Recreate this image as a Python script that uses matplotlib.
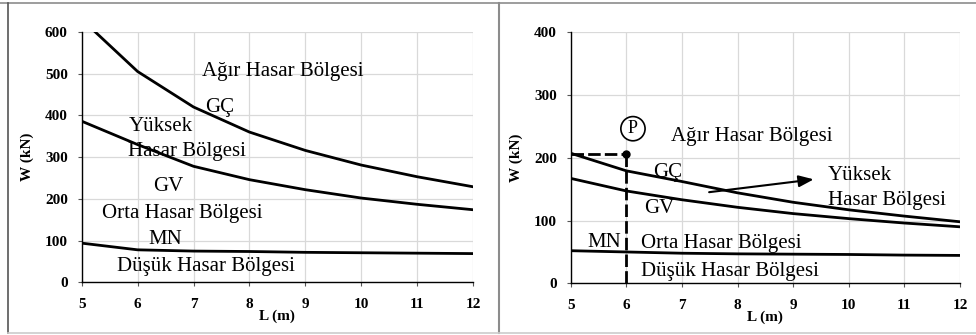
import matplotlib
matplotlib.use("Agg")
import matplotlib.pyplot as plt
from matplotlib.lines import Line2D

L = [5, 6, 7, 8, 9, 10, 11, 12]

# Left panel
left_GC = [630, 505, 420, 360, 316, 281, 253, 229]
left_GV = [386, 330, 278, 246, 222, 202, 187, 174]
left_MN = [94, 78, 75, 74, 72, 71, 70, 69]

# Right panel
right_GC = [207, 179, 162, 144, 129, 117, 107, 98]
right_GV = [167, 147, 133, 121, 111, 103, 96, 90]
right_MN = [52, 50, 48, 47, 46.5, 46, 45, 44.5]

P_point = (6, 205)

xticks = [5, 6, 7, 8, 9, 10, 11, 12]
left_yticks = [0, 100, 200, 300, 400, 500, 600]
right_yticks = [0, 100, 200, 300, 400]

plt.rcParams['font.family'] = ['Liberation Serif', 'DejaVu Serif']

fig = plt.figure(figsize=(9.76, 3.35), dpi=100)
ax1 = fig.add_axes([0.0837, 0.157, 0.401, 0.748])
ax2 = fig.add_axes([0.5847, 0.154, 0.3989, 0.751])


def style(ax, yticks):
    ax.set_xlim(5, 12)
    ax.set_ylim(yticks[0], yticks[-1])
    ax.set_xticks(xticks)
    ax.set_yticks(yticks)
    ax.grid(True, color='#d9d9d9', linewidth=0.9)
    ax.set_axisbelow(True)
    for s in ['top', 'right']:
        ax.spines[s].set_visible(False)
    for s in ['left', 'bottom']:
        ax.spines[s].set_color('black')
        ax.spines[s].set_linewidth(1.0)
    ax.tick_params(axis='both', direction='out', length=3, width=0.8,
                   color='#555555', labelsize=11)
    ax.tick_params(axis='y', pad=7)
    ax.tick_params(axis='x', pad=8)
    for lab in ax.get_xticklabels() + ax.get_yticklabels():
        lab.set_fontweight('bold')
    ax.set_xlabel('L (m)', fontsize=11, fontweight='bold', labelpad=-1)
    ax.set_ylabel('W (kN)', fontsize=11, fontweight='bold', labelpad=8)


style(ax1, left_yticks)
style(ax2, right_yticks)

lw = 2.0
for ax, gc, gv, mn in [(ax1, left_GC, left_GV, left_MN),
                       (ax2, right_GC, right_GV, right_MN)]:
    ax.plot(L, gc, color='black', lw=lw, clip_on=True)
    ax.plot(L, gv, color='black', lw=lw)
    ax.plot(L, mn, color='black', lw=lw)

fs = 15
# Left texts
ax1.text(8.6, 506, 'Ağır Hasar Bölgesi', fontsize=fs, ha='center', va='center')
ax1.text(7.46, 418, 'GÇ', fontsize=fs, ha='center', va='center')
ax1.text(5.85, 374, 'Yüksek', fontsize=fs, ha='left', va='center')
ax1.text(5.83, 314, 'Hasar Bölgesi', fontsize=fs, ha='left', va='center')
ax1.text(6.55, 230, 'GV', fontsize=fs, ha='center', va='center')
ax1.text(6.79, 164, 'Orta Hasar Bölgesi', fontsize=fs, ha='center', va='center')
ax1.text(6.49, 103, 'MN', fontsize=fs, ha='center', va='center')
ax1.text(7.22, 38, 'Düşük Hasar Bölgesi', fontsize=fs, ha='center', va='center')

# Right texts
ax2.text(8.25, 233, 'Ağır Hasar Bölgesi', fontsize=fs, ha='center', va='center')
ax2.text(6.75, 176, 'GÇ', fontsize=fs, ha='center', va='center')
ax2.text(9.63, 172, 'Yüksek', fontsize=fs, ha='left', va='center')
ax2.text(9.63, 132, 'Hasar Bölgesi', fontsize=fs, ha='left', va='center')
ax2.text(6.6, 119, 'GV', fontsize=fs, ha='center', va='center')
ax2.text(5.6, 65, 'MN', fontsize=fs, ha='center', va='center')
ax2.text(6.26, 64, 'Orta Hasar Bölgesi', fontsize=fs, ha='left', va='center')
ax2.text(6.26, 19, 'Düşük Hasar Bölgesi', fontsize=fs, ha='left', va='center')

# P point with dashed guides
px, py = P_point
dash = (0, (4.5, 1.5))
ax2.plot([5, px], [py, py], color='black', lw=2.0, ls=dash)
ax2.plot([px, px], [py, 0], color='black', lw=2.0, ls=dash, clip_on=False)
ax2.plot([px], [py], 'o', color='black', ms=5)
ax2.text(6.12, 246, 'P', fontsize=13, ha='center', va='center',
         bbox=dict(boxstyle='circle,pad=0.2', fc='white', ec='black', lw=1.2))

# Arrow
ax2.annotate('', xy=(9.42, 166), xytext=(7.44, 144.5),
             arrowprops=dict(arrowstyle='-|>,head_length=0.9,head_width=0.35',
                             color='black', lw=1.5))

# Panel borders
fig.add_artist(Line2D([0, 1], [1 - 3 / 335, 1 - 3 / 335], transform=fig.transFigure,
                      color='#8c8c8c', lw=1.2))
fig.add_artist(Line2D([8 / 976, 8 / 976], [2 / 335, 1 - 3 / 335], transform=fig.transFigure,
                      color='#555555', lw=1.2))
fig.add_artist(Line2D([499 / 976, 499 / 976], [2 / 335, 1 - 3 / 335], transform=fig.transFigure,
                      color='#8c8c8c', lw=1.5))
fig.add_artist(Line2D([8 / 976, 1], [2 / 335, 2 / 335], transform=fig.transFigure,
                      color='#cccccc', lw=1.2))

fig.savefig('out.png', dpi=100)
